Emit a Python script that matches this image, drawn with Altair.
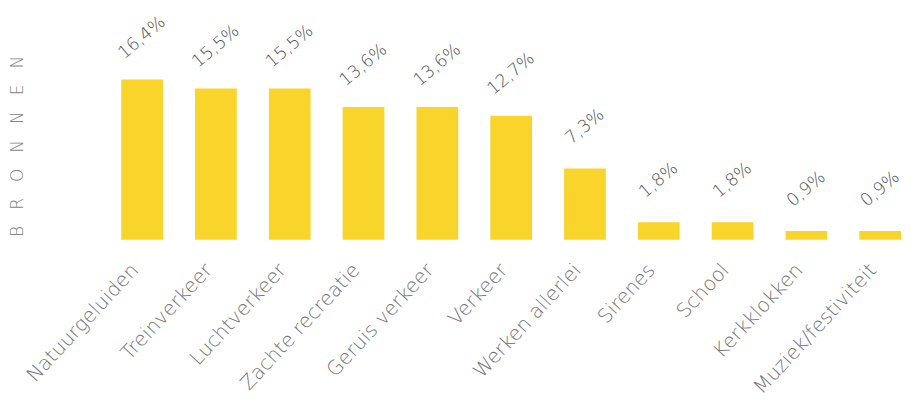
import altair as alt
import pandas as pd

categories = ["Natuurgeluiden", "Treinverkeer", "Luchtverkeer", "Zachte recreatie",
              "Geruis verkeer", "Verkeer", "Werken allerlei", "Sirenes", "School",
              "Kerkklokken", "Muziek/festiviteit"]
values = [16.4, 15.5, 15.5, 13.6, 13.6, 12.7, 7.3, 1.8, 1.8, 0.9, 0.9]
value_labels = ["16,4%", "15,5%", "15,5%", "13,6%", "13,6%", "12,7%", "7,3%",
                "1,8%", "1,8%", "0,9%", "0,9%"]
side_title = ["B\u00a0\u00a0\u00a0R\u00a0\u00a0\u00a0O\u00a0\u00a0\u00a0N\u00a0\u00a0\u00a0N\u00a0\u00a0\u00a0E\u00a0\u00a0\u00a0N"]

df = pd.DataFrame({"cat": categories, "val": values, "lab": value_labels})

FONT = "DejaVu Sans"
YELLOW = "#F9D52B"

x = alt.X("cat:N", sort=categories,
          scale=alt.Scale(paddingInner=0.435, paddingOuter=0),
          axis=alt.Axis(title=None, labelAngle=-47, labelAlign="right",
                        labelBaseline="middle", labelPadding=27, labelOffset=-7,
                        ticks=False, domain=False, grid=False, labelFontSize=20,
                        labelFont=FONT, labelColor="#747474", labelFontWeight=200))
y = alt.Y("val:Q", scale=alt.Scale(domain=[0, 23.6]), axis=None)

bars = alt.Chart(df).mark_bar(color=YELLOW).encode(x=x, y=y)

labels = alt.Chart(df).mark_text(angle=320, yOffset=-42, align="center", baseline="middle",
                                 fontSize=17.5, font=FONT, color="#505050",
                                 fontWeight=200).encode(x=x, y=y, text="lab:N")

title = alt.Chart(pd.DataFrame({"t": side_title})).mark_text(
    angle=270, align="center", baseline="middle", fontSize=17, font=FONT,
    color="#858585", fontWeight=200
).encode(text="t:N", x=alt.value(-104), y=alt.value(138))

chart = alt.layer(bars, labels, title).properties(
    width=785, height=232,
    background="white",
    autosize=alt.AutoSizeParams(type="none"),
    padding={"left": 114, "top": 0, "right": 6, "bottom": 160},
).configure_view(stroke=None)

chart.save("out.html", embed_options={"renderer": "svg", "actions": False})
